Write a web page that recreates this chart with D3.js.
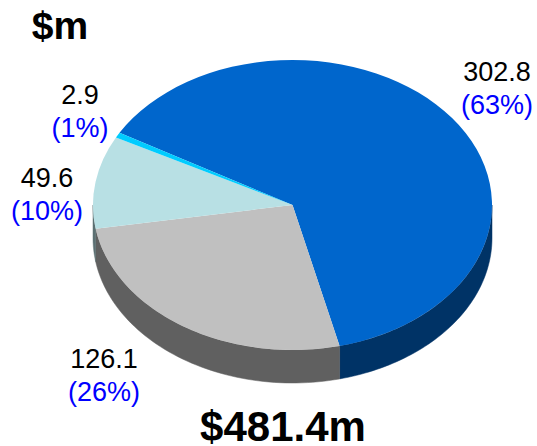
<!DOCTYPE html>
<html><head><meta charset="utf-8">
<script src="https://cdn.jsdelivr.net/npm/d3@7"></script>
<style>html,body{margin:0;padding:0;background:#fff}svg{display:block}text{font-family:"Liberation Sans",Arial,sans-serif}</style>
</head><body><svg id="c" width="537" height="446"></svg>
<script>
const categories = ["A","B","C","D"];
const values = [302.8,126.1,49.6,2.9];
const percents = ["(63%)","(26%)","(10%)","(1%)"];
const valueLabels = ["302.8","126.1","49.6","2.9"];
const topColors = ["#0066cc","#c0c0c0","#b8e0e4","#00ccff"];
const sideColors = ["#003366","#606060","#5c7073","#006680"];
const title = "$m";
const total = "$481.4m";

const cx=292.5, cy=205, rx=199.5, ry=145, depth=33;
const svg=d3.select("#c");
const start=-60.1*Math.PI/180;
const pie=d3.pie().sort(null).value(d=>d).startAngle(start).endAngle(start+2*Math.PI);
const arcs=pie(values);
const px=a=>cx+rx*Math.sin(a), py=a=>cy-ry*Math.cos(a);

// side walls: visible only on the front half
const wallLine=d3.line();
arcs.forEach((d,i)=>{
  let a0=d.startAngle,a1=d.endAngle;
  [[a0,a1],[a0+2*Math.PI,a1+2*Math.PI],[a0-2*Math.PI,a1-2*Math.PI]].forEach(([s,e])=>{
    const lo=Math.max(s,Math.PI/2), hi=Math.min(e,3*Math.PI/2);
    if(hi<=lo) return;
    const ang=d3.range(0,61).map(k=>lo+(hi-lo)*k/60);
    const pts=ang.map(a=>[px(a),py(a)]).concat(ang.slice().reverse().map(a=>[px(a),py(a)+depth]));
    svg.append("path").attr("d",wallLine(pts)+"Z").attr("fill",sideColors[i]).attr("stroke",sideColors[i]).attr("stroke-width",0.5);
  });
});
// top face
const arcGen=d3.arc().innerRadius(0).outerRadius(1);
const face=svg.append("g").attr("transform",`translate(${cx},${cy}) scale(${rx},${ry})`);
face.selectAll("path").data(arcs).join("path").attr("d",arcGen).attr("fill",(d,i)=>topColors[i]);

// labels
const lx=[497,104,47,80], ly=[81,367.5,187,104];
valueLabels.forEach((t,i)=>{
  svg.append("text").attr("x",lx[i]).attr("y",ly[i]).attr("text-anchor","middle").attr("font-size",27).attr("fill","#000").text(t);
  svg.append("text").attr("x",lx[i]).attr("y",ly[i]+33).attr("text-anchor","middle").attr("font-size",27).attr("fill","#0000ff").text(percents[i]);
});
svg.append("text").attr("x",60).attr("y",39).attr("text-anchor","middle").attr("font-size",39).attr("font-weight","bold").text(title);
svg.append("text").attr("x",283).attr("y",441).attr("text-anchor","middle").attr("font-size",42).attr("font-weight","bold").text(total);
</script></body></html>
